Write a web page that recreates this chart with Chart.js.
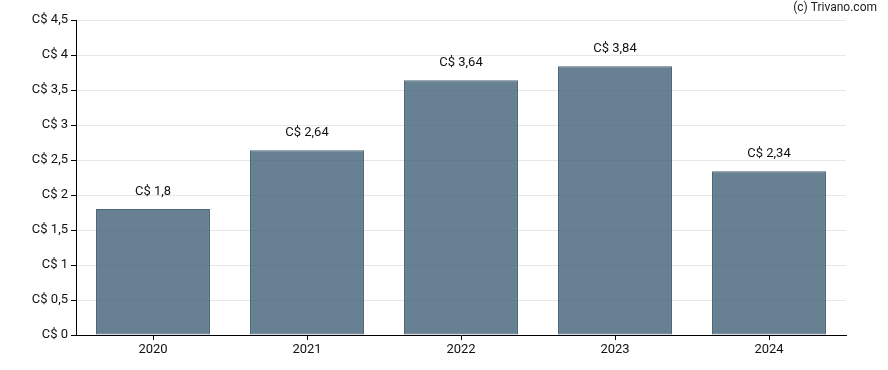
<!DOCTYPE html>
<html>
<head>
<meta charset="utf-8">
<script src="https://cdn.jsdelivr.net/npm/chart.js@4/dist/chart.umd.min.js"></script>
<style>
  html, body { margin: 0; padding: 0; background: #fff; }
  #wrap { width: 888px; height: 370px; position: relative; }
</style>
</head>
<body>
<div id="wrap"><canvas id="myChart"></canvas></div>
<script>
// jaren en waarden
const jaren = ["2020", "2021", "2022", "2023", "2024"];
const waarden = [1.8, 2.64, 3.64, 3.84, 2.34];
const yTicks = [0, 0.5, 1, 1.5, 2, 2.5, 3, 3.5, 4, 4.5];

function fmt(v) {
  return "C$ " + String(v).replace(".", ",");
}

// labels boven de balken
const labelPlugin = {
  id: "labels",
  afterDatasetsDraw(chart) {
    const ctx = chart.ctx;
    const meta = chart.getDatasetMeta(0);
    ctx.save();
    ctx.font = "13px Roboto";
    ctx.fillStyle = "#111";
    ctx.textAlign = "center";
    ctx.textBaseline = "middle";
    meta.data.forEach((bar, i) => {
      ctx.fillText(fmt(waarden[i]), bar.x, bar.y - 17);
    });
    ctx.restore();
  },
  afterDraw(chart) {
    const ctx = chart.ctx;
    ctx.save();
    ctx.font = "12px Roboto";
    ctx.fillStyle = "#222";
    ctx.textAlign = "right";
    ctx.textBaseline = "middle";
    ctx.fillText("(c) Trivano.com", 877, 8);
    ctx.restore();
  }
};

new Chart(document.getElementById("myChart"), {
  type: "bar",
  data: {
    labels: jaren,
    datasets: [{
      data: waarden,
      backgroundColor: "rgba(65,97,119,0.8)",
      borderColor: "#4b6579",
      borderWidth: 1,
      borderSkipped: false,
      categoryPercentage: 0.74,
      barPercentage: 1
    }]
  },
  options: {
    responsive: true,
    maintainAspectRatio: false,
    animation: false,
    layout: { padding: { top: 20, right: 42, left: 0, bottom: 0 } },
    plugins: { legend: { display: false }, tooltip: { enabled: false } },
    scales: {
      x: {
        grid: { offset: false, drawOnChartArea: false, tickColor: "#000", tickLength: 5 },
        border: { color: "#000", width: 1 },
        ticks: { color: "#111", font: { family: "Roboto", size: 13 }, padding: 2 },
        afterFit(scale) { scale.height = 35; }
      },
      y: {
        min: 0,
        max: 4.5,
        afterBuildTicks(scale) { scale.ticks = yTicks.map(v => ({ value: v })); },
        grid: { color: "#e6e6e6", tickColor: "#000", tickLength: 5 },
        border: { color: "#000", width: 1 },
        ticks: {
          color: "#111",
          font: { family: "Roboto", size: 13 },
          padding: 3,
          callback: v => fmt(v)
        },
        afterFit(scale) { scale.width = 76; }
      }
    }
  },
  plugins: [labelPlugin]
});
</script>
</body>
</html>
